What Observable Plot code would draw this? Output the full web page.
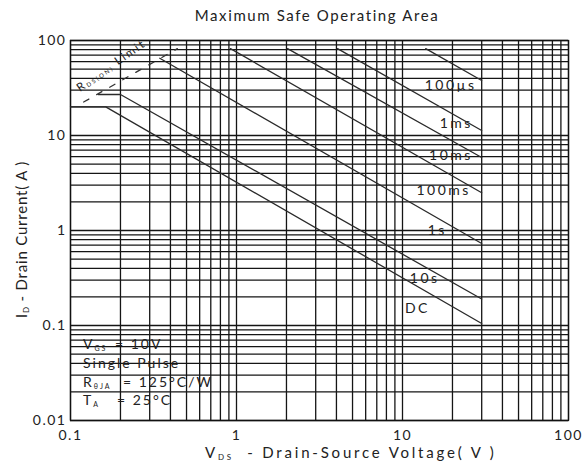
<!DOCTYPE html>
<html>
<head>
<meta charset="utf-8">
<script src="https://cdn.jsdelivr.net/npm/d3@7"></script>
<script src="https://cdn.jsdelivr.net/npm/@observablehq/plot@0.6"></script>
<style>
  body { margin: 0; background: #fff; }
  svg { display: block; }
</style>
</head>
<body>
<div id="chart"></div>
<script>
// Axis ticks
const xTickValues = [0.1, 1, 10, 100];
const yTickValues = [0.01, 0.1, 1, 10, 100];
const xDecades = [0.1, 1, 10];
const yDecades = [0.01, 0.1, 1, 10];
const multipliers = [1, 2, 3, 4, 5, 6, 7, 8, 9];

// SOA boundary lines (V_DS in V, I_D in A)
const dcV = [0.1, 0.163, 30];     const dcI = [20, 20, 0.105];
const s10V = [0.147, 0.2, 30];    const s10I = [27, 27, 0.19];
const s1V = [0.345, 30];          const s1I = [65, 0.73];
const ms100V = [0.92, 30];        const ms100I = [82, 2.5];
const ms10V = [2.03, 30];         const ms10I = [82, 5.87];
const ms1V = [4.06, 30];          const ms1I = [82, 11.3];
const us100V = [13.8, 30];        const us100I = [82, 37.9];
const rLimitV = [0.12, 0.44];     const rLimitI = [22.5, 82];

// Curve labels
const labelText = ["100\u00B5s", "1ms", "10ms", "100ms", "1s", "10s", "DC"];
const labelV = [19.5, 21.1, 19.6, 17.7, 16.2, 13.6, 12.3];
const labelI = [33.6, 13.4, 6.16, 2.64, 1.0, 0.313, 0.151];

const gridX = xDecades.flatMap(d => multipliers.map(m => +(d * m).toPrecision(3))).concat([100]);
const gridY = yDecades.flatMap(d => multipliers.map(m => +(d * m).toPrecision(3))).concat([100]);

const pts = (vs, is) => vs.map((v, i) => ({v, i: is[i]}));
const series = [
  pts(dcV, dcI), pts(s10V, s10I), pts(s1V, s1I), pts(ms100V, ms100I),
  pts(ms10V, ms10I), pts(ms1V, ms1I), pts(us100V, us100I)
];
const labels = labelText.map((t, k) => ({t, v: labelV[k], i: labelI[k]}));

const font = "Lato, 'Open Sans', sans-serif";

const chart = Plot.plot({
  width: 583,
  height: 467,
  marginTop: 40,
  marginLeft: 70,
  marginRight: 15,
  marginBottom: 47,
  style: {fontFamily: font, fontSize: "14px", color: "#222", background: "#fff"},
  x: {type: "log", domain: [0.1, 100], ticks: xTickValues, tickFormat: d => String(d), tickSize: 0, tickPadding: 10, label: null},
  y: {type: "log", domain: [0.01, 100], ticks: yTickValues, tickFormat: d => String(d), tickSize: 0, tickPadding: 4, label: null},
  marks: [
    Plot.ruleX(gridX, {stroke: "#151515", strokeWidth: 1.3}),
    Plot.ruleY(gridY, {stroke: "#151515", strokeWidth: 1.3}),
    Plot.frame({stroke: "#111", strokeWidth: 1.3}),
    ...series.map(s => Plot.line(s, {x: "v", y: "i", stroke: "#2a2a2a", strokeWidth: 1.3})),
    Plot.line(pts(rLimitV, rLimitI), {x: "v", y: "i", stroke: "#333", strokeWidth: 1.3, strokeDasharray: "6,9"}),
    Plot.text(labels, {x: "v", y: "i", text: "t", fontSize: 14, fill: "#222", textAnchor: "middle", lineAnchor: "middle", fontFamily: font})
  ]
});

document.getElementById("chart").appendChild(chart);

const svg = d3.select(chart);
svg.selectAll("g[aria-label='x-axis tick label'] text, g[aria-label='y-axis tick label'] text, g[aria-label='x-axis'] text, g[aria-label='y-axis'] text")
  .style("letter-spacing", "1.5px").style("font-size", "14px");
svg.selectAll("g[aria-label='text'] text").style("letter-spacing", "2.5px");

function addText(parent, x, y, parts, opts = {}) {
  const t = parent.append("text")
    .attr("x", x).attr("y", y)
    .attr("font-family", font)
    .attr("font-size", opts.size || 14)
    .attr("fill", "#222")
    .style("letter-spacing", (opts.spacing || 0) + "px")
    .attr("text-anchor", opts.anchor || "start");
  if (opts.transform) t.attr("transform", opts.transform);
  parts.forEach(p => {
    const s = t.append("tspan").text(p.t);
    if (p.x !== undefined) s.attr("x", p.x);
    if (p.sub) s.attr("font-size", p.subSize || 7).attr("dy", p.dy || 2);
    if (p.back) s.attr("dy", -p.back);
  });
  return t;
}

// Title
addText(svg, 317, 21, [{t: "Maximum Safe Operating Area"}], {size: 15, spacing: 1.6, anchor: "middle"});

// X axis label
addText(svg, 205, 458, [
  {t: "V"}, {t: "DS", sub: true, subSize: 8}, {t: "\u00A0 - Drain-Source Voltage( V )", back: 2}
], {size: 15, spacing: 2.8});

// Y axis label
addText(svg, 0, 0, [
  {t: "I"}, {t: "D", sub: true, subSize: 8}, {t: "\u00A0- Drain Current( A )", back: 2}
], {size: 15, spacing: 0.8, transform: "translate(27,318) rotate(-90)"});

// Conditions annotation
addText(svg, 83, 349, [{t: "V"}, {t: "GS", sub: true}, {t: "= 10V", x: 115, back: 2}], {size: 14, spacing: 2});
addText(svg, 83, 368, [{t: "Single Pulse"}], {size: 14, spacing: 2});
addText(svg, 83, 387, [{t: "R"}, {t: "\u03B8JA", sub: true}, {t: "= 125\u00B0C/W", x: 123, back: 2}], {size: 14, spacing: 2});
addText(svg, 83, 405, [{t: "T"}, {t: "A", sub: true}, {t: "= 25\u00B0C", x: 117, back: 2}], {size: 14, spacing: 2});

// R_DS(ON) Limit label
addText(svg, 0, 0, [
  {t: "R"}, {t: "DS(ON)", sub: true, subSize: 6, dy: 1}, {t: "\u00A0Limit", back: 1}
], {size: 11.5, spacing: 2, transform: "translate(80,92) rotate(-35)"});
</script>
</body>
</html>
